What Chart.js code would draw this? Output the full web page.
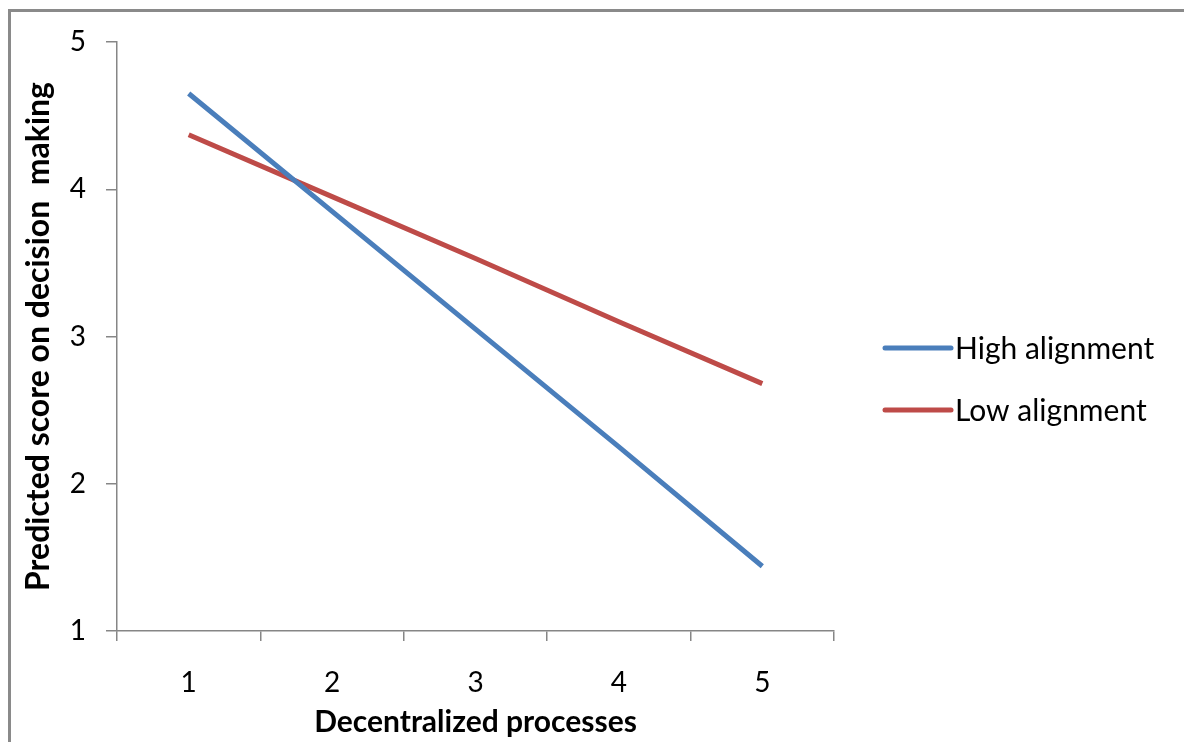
<!DOCTYPE html>
<html>
<head>
<meta charset="utf-8">
<script src="https://cdn.jsdelivr.net/npm/chart.js@4.4.1/dist/chart.umd.min.js"></script>
<style>
  html, body { margin: 0; padding: 0; background: #fff; }
  #wrap { position: relative; width: 1184px; height: 742px; overflow: hidden; }
  #frame { position: absolute; left: 8px; top: 9px; width: 1200px; height: 760px; border: 3px solid #8a8a8a; box-sizing: border-box; }
  canvas { position: absolute; left: 0; top: 0; }
</style>
</head>
<body>
<div id="wrap">
  <div id="frame"></div>
  <canvas id="myChart" width="1184" height="742"></canvas>
</div>
<script>
// data
const categories = ["1", "2", "3", "4", "5"];
const highAlignment = [4.65, 3.85, 3.05, 2.25, 1.44];
const lowAlignment = [4.37, 3.95, 3.53, 3.10, 2.68];
const yTicks = [1, 2, 3, 4, 5];

const FONT = "Lato, 'Open Sans', sans-serif";
const axisGray = "#868686";

// simple legend drawn at the right, like the original
const sideLegend = {
  id: "sideLegend",
  afterDraw(chart) {
    const ctx = chart.ctx;
    ctx.save();
    ctx.font = "30px " + FONT;
    ctx.textBaseline = "middle";
    chart.data.datasets.forEach((ds, i) => {
      const y = 348 + i * 62;
      ctx.strokeStyle = ds.borderColor;
      ctx.lineWidth = 5;
      ctx.lineCap = "round";
      ctx.beginPath();
      ctx.moveTo(885, y);
      ctx.lineTo(951, y);
      ctx.stroke();
      ctx.fillStyle = "#000";
      ctx.fillText(ds.label, 955, y + 1);
    });
    ctx.restore();
  }
};

const ctx = document.getElementById("myChart").getContext("2d");
new Chart(ctx, {
  type: "line",
  data: {
    labels: categories,
    datasets: [
      {
        label: "High alignment",
        data: highAlignment,
        borderColor: "#4a7ebb",
        borderWidth: 5,
        pointRadius: 0,
        tension: 0,
        fill: false
      },
      {
        label: "Low alignment",
        data: lowAlignment,
        borderColor: "#be4b48",
        borderWidth: 5,
        pointRadius: 0,
        tension: 0,
        fill: false
      }
    ]
  },
  options: {
    responsive: false,
    animation: false,
    layout: { padding: { left: 0, top: 42, right: 350, bottom: 0 } },
    plugins: {
      legend: { display: false },
      tooltip: { enabled: false }
    },
    scales: {
      x: {
        type: "category",
        offset: true,
        grid: {
          offset: true,
          drawOnChartArea: false,
          drawTicks: true,
          tickLength: 10,
          color: axisGray,
          lineWidth: 1.5
        },
        border: { color: axisGray, width: 1.5 },
        ticks: { color: "#000", padding: 25, font: { family: FONT, size: 28 } },
        title: {
          display: true,
          text: "Decentralized processes",
          color: "#000",
          font: { family: FONT, size: 30, weight: "bold" },
          padding: { top: 0, bottom: 2 }
        },
        afterFit: (s) => { s.height = 111; }
      },
      y: {
        min: 1,
        max: 5,
        afterBuildTicks: (s) => { s.ticks = yTicks.map(v => ({ value: v })); },
        grid: {
          drawOnChartArea: false,
          drawTicks: true,
          tickLength: 11,
          color: axisGray,
          lineWidth: 1.5
        },
        border: { color: axisGray, width: 1.5 },
        ticks: { color: "#000", padding: 20, font: { family: FONT, size: 28 } },
        title: {
          display: true,
          text: "Predicted score on decision  making",
          color: "#000",
          font: { family: FONT, size: 32, weight: "bold" },
          padding: { top: 19, bottom: 0 }
        },
        afterFit: (s) => { s.width = 117; }
      }
    }
  },
  plugins: [sideLegend]
});
</script>
</body>
</html>
